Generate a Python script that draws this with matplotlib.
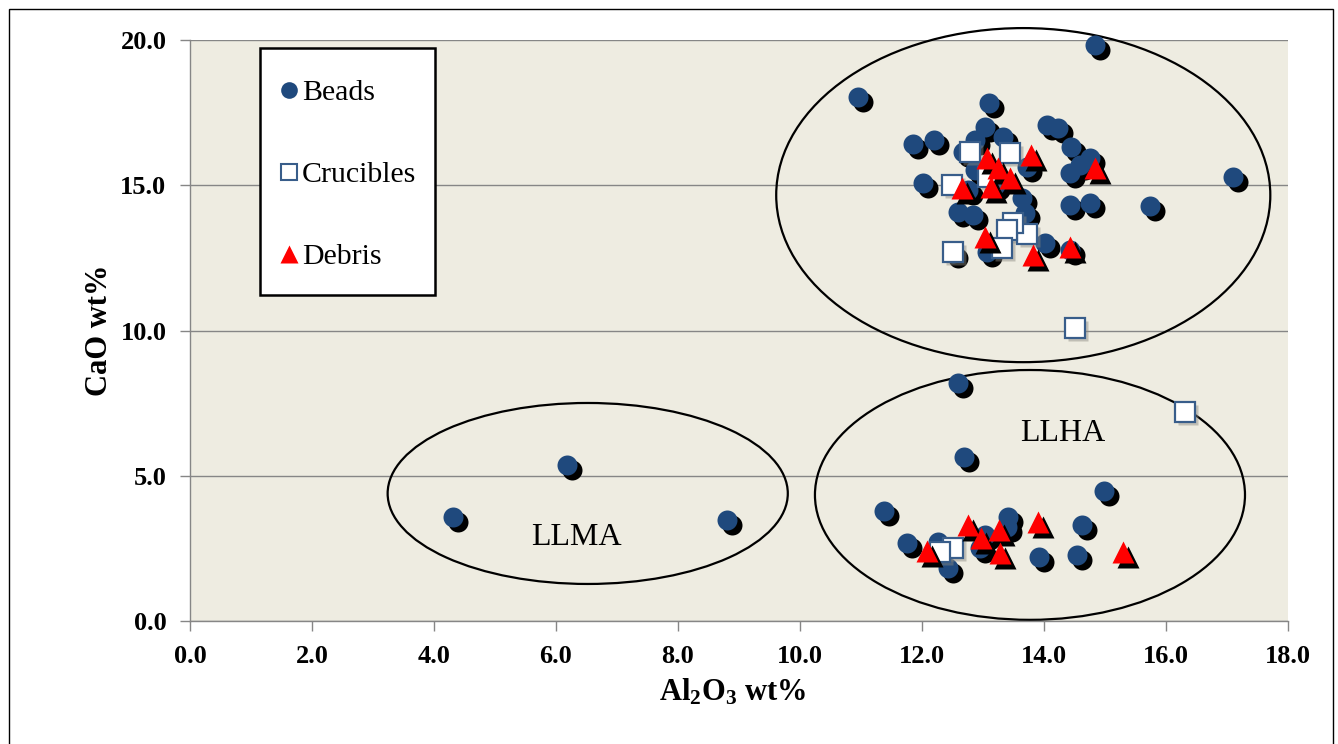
import matplotlib
matplotlib.use("Agg")
import matplotlib.pyplot as plt
from matplotlib.patches import Ellipse, Rectangle
from matplotlib.transforms import offset_copy

plt.rcParams['font.family'] = ['Liberation Serif', 'DejaVu Serif']
plt.rcParams['mathtext.fontset'] = 'custom'
plt.rcParams['mathtext.rm'] = 'Liberation Serif'
plt.rcParams['mathtext.bf'] = 'Liberation Serif:bold'

# ---------------- data ----------------
beads_al = [10.95, 14.84, 11.85, 12.20, 13.03, 13.10, 12.87, 13.33, 14.05, 14.23,
            14.44, 14.59, 14.75, 14.43, 12.02, 12.67, 13.72, 12.75, 13.64, 12.59,
            12.84, 13.69, 14.43, 14.75, 15.74, 17.10, 14.02, 14.43, 13.07, 12.51,
            12.87, 13.20,
            12.59, 12.69, 14.98, 11.38, 11.75, 12.26, 12.43, 13.03, 12.95, 13.41,
            13.39, 14.62, 13.92, 14.54,
            4.31, 6.18, 8.80]
beads_ca = [18.04, 19.83, 16.42, 16.56, 17.00, 17.83, 16.56, 16.66, 17.07, 16.97,
            16.32, 15.70, 15.94, 15.42, 15.08, 16.14, 15.63, 14.84, 14.56, 14.08,
            13.98, 14.04, 14.32, 14.39, 14.29, 15.28, 13.01, 12.77, 12.70, 12.67,
            15.53, 15.00,
            8.19, 5.65, 4.47, 3.79, 2.68, 2.72, 1.82, 2.96, 2.51, 3.58,
            3.24, 3.30, 2.20, 2.27,
            3.58, 5.37, 3.48]

cruc_al = [12.79, 13.44, 12.49, 13.08, 13.72, 13.49, 13.39, 13.31, 12.51, 14.51,
           16.31, 12.51, 12.30]
cruc_ca = [16.14, 16.11, 15.00, 15.28, 13.32, 13.70, 13.46, 12.84, 12.70, 10.09,
           7.19, 2.51, 2.38]

debris_al = [13.07, 13.25, 13.44, 12.66, 13.13, 13.79, 14.84, 13.03, 13.82, 14.43,
             12.08, 12.75, 12.97, 13.26, 13.28, 13.90, 15.30]
debris_ca = [15.94, 15.59, 15.25, 14.90, 14.94, 16.04, 15.59, 13.22, 12.60, 12.87,
             2.41, 3.30, 2.86, 3.13, 2.34, 3.41, 2.38]

# group ellipses: (centre x, centre y, width, height)
groups = [(13.66, 14.66, 8.10, 11.50),
          (13.77, 4.34, 7.05, 8.60),
          (6.52, 4.39, 6.56, 6.23)]
group_labels = ['LLHA', 'LLMA']
group_label_pos = [(14.31, 6.47), (6.34, 2.89)]

series_names = ['Beads', 'Crucibles', 'Debris']

x_ticks = [0, 2, 4, 6, 8, 10, 12, 14, 16, 18]
y_ticks = [0, 5, 10, 15, 20]

BLUE = '#1F497D'
SQ_EDGE = '#385D8A'
RED = '#FF0000'

# ---------------- figure ----------------
W, H = 1338, 744
AX_L, AX_R, AX_T, AX_B = 190, 1288, 40, 621
fig = plt.figure(figsize=(W / 100, H / 100), dpi=100)
ax = fig.add_axes([AX_L / W, (H - AX_B) / H, (AX_R - AX_L) / W, (AX_B - AX_T) / H])
ax.set_facecolor('#EEECE1')
ax.set_xlim(0, 18)
ax.set_ylim(0, 20)


def ax_frac(px, py):
    return (px - AX_L) / (AX_R - AX_L), (AX_B - py) / (AX_B - AX_T)


ax.set_xticks(x_ticks)
ax.set_yticks(y_ticks)
ax.set_xticklabels([f'{v:.1f}' for v in x_ticks])
ax.set_yticklabels([f'{v:.1f}' for v in y_ticks])
for lab in ax.get_xticklabels() + ax.get_yticklabels():
    lab.set_fontweight('bold')
    lab.set_fontsize(19)
ax.tick_params(axis='both', direction='out', length=7, width=1, color='#868686', pad=10)

ax.grid(axis='y', color='#868686', linewidth=1)
ax.set_axisbelow(True)
for s in ['top', 'right']:
    ax.spines[s].set_visible(False)
for s in ['left', 'bottom']:
    ax.spines[s].set_color('#868686')
    ax.spines[s].set_linewidth(1)

# ellipses
for (cx, cy, w, h) in groups:
    ax.add_patch(Ellipse((cx, cy), w, h, facecolor='none', edgecolor='black',
                         linewidth=1.6, clip_on=False, zorder=2))
for lab, (lx, ly) in zip(group_labels, group_label_pos):
    ax.text(lx, ly, lab, fontsize=23, ha='center', va='center', zorder=3)

shadow = offset_copy(ax.transData, fig=fig, x=5, y=-5, units='dots')

# beads
ax.plot(beads_al, beads_ca, 'o', ms=14.4, color='black', mec='none',
        transform=shadow, zorder=4, clip_on=False)
ax.plot(beads_al, beads_ca, 'o', ms=14.4, color=BLUE, mec='none', zorder=5, clip_on=False)
# crucibles
ax.plot(cruc_al, cruc_ca, 's', ms=14.5, mfc='#8a8880', mec='none', alpha=0.45,
        transform=offset_copy(ax.transData, fig=fig, x=3, y=-3, units='dots'),
        zorder=6, clip_on=False)
for xa, ya in zip(cruc_al, cruc_ca):
    ax.plot([xa], [ya], 's', ms=14.5, mfc='white', mec=SQ_EDGE, mew=1.6,
            zorder=7, clip_on=False)
# debris
ax.plot(debris_al, debris_ca, '^', ms=16, color='black', mec='none',
        transform=shadow, zorder=8, clip_on=False)
ax.plot(debris_al, debris_ca, '^', ms=16, color=RED, mec='none', zorder=9, clip_on=False)

# legend (drawn as a box with markers and text, in axes coordinates)
bx0, by0 = ax_frac(260, 295)
bx1, by1 = ax_frac(435, 48)
ax.add_patch(Rectangle((bx0, by0), bx1 - bx0, by1 - by0, transform=ax.transAxes,
                       facecolor='white', edgecolor='black', linewidth=1.8,
                       zorder=10, clip_on=False))
leg_marker_styles = [dict(marker='o', ms=12, color=BLUE, mec='none'),
                     dict(marker='s', ms=12, mfc='white', mec=SQ_EDGE, mew=1.5),
                     dict(marker='^', ms=13, color=RED, mec='none')]
leg_rows_py = [90, 172, 254]
for name, style, py in zip(series_names, leg_marker_styles, leg_rows_py):
    mx, my = ax_frac(289, py)
    ax.plot([mx], [my], ls='none', transform=ax.transAxes, zorder=11,
            clip_on=False, **style)
    tx, ty = ax_frac(302, py + 10)
    ax.text(tx, ty, name, transform=ax.transAxes, fontsize=21.5, ha='left',
            va='baseline', zorder=11)

# axis labels
ax.set_xlabel(r'$\mathbf{Al_{2}O_{3}}$ wt%', fontsize=22, fontweight='bold')
ax.xaxis.set_label_coords(0.4945, -0.097)
ax.set_ylabel('CaO wt%', fontsize=22, fontweight='bold')
ax.yaxis.set_label_coords(-0.069, 0.5)

# outer frame
fig.patches.append(Rectangle((8.5 / W, -0.1), 1324 / W, 1.1 - 9 / H,
                             transform=fig.transFigure, fill=False,
                             edgecolor='black', linewidth=1))

fig.savefig('out.png', dpi=100)
